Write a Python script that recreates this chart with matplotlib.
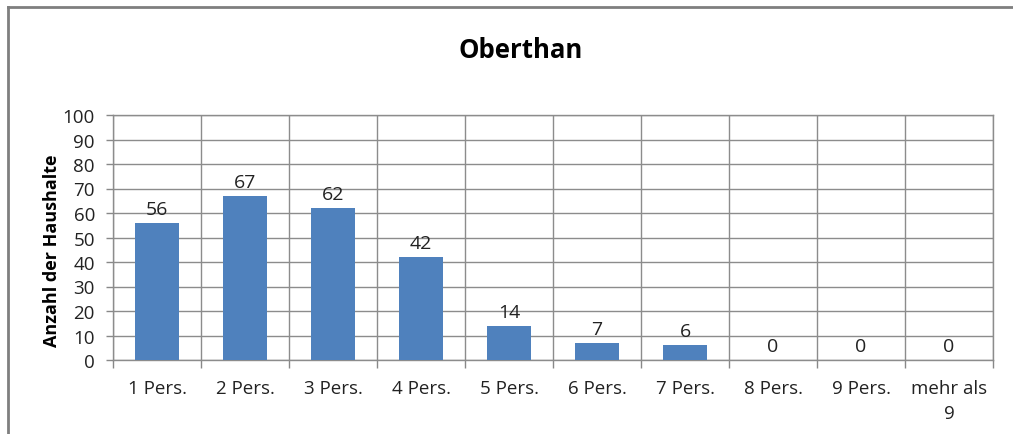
import matplotlib
matplotlib.use("Agg")
import matplotlib.pyplot as plt
from matplotlib.lines import Line2D
import numpy as np

# data
categories = ["1 Pers.", "2 Pers.", "3 Pers.", "4 Pers.", "5 Pers.",
              "6 Pers.", "7 Pers.", "8 Pers.", "9 Pers.", "mehr als\n9"]
households = [56, 67, 62, 42, 14, 7, 6, 0, 0, 0]
yticks = list(range(0, 101, 10))

plt.rcParams['font.family'] = ['Open Sans', 'DejaVu Sans']

fig = plt.figure(figsize=(10.13, 4.35), dpi=100)
ax = fig.add_axes([113 / 1013, 74 / 435, 880 / 1013, 245 / 435])

x = np.arange(len(categories))
ax.bar(x, households, width=0.5, color="#4F81BD", zorder=3)

for xi, v in zip(x, households):
    ax.annotate(str(v), (xi, v), xytext=(0, 6.5), textcoords="offset points",
                ha="center", va="baseline", fontsize=14, color="#222222")

ax.set_xlim(-0.5, len(categories) - 0.5)
ax.set_ylim(0, 100)
ax.set_yticks(yticks)
ax.set_xticks(x)
ax.set_xticklabels(categories, fontsize=13.5, color="#222222")
for lbl in ax.get_xticklabels():
    lbl.set_linespacing(1.45)
ax.set_xticks(np.arange(len(categories) + 1) - 0.5, minor=True)

ax.tick_params(axis="x", which="major", length=0, pad=14)
ax.tick_params(axis="x", which="minor", length=6, color="#888888", width=1)
ax.tick_params(axis="y", length=5, color="#888888", width=1, pad=8,
               labelsize=13.5, labelcolor="#222222")

ax.grid(True, axis="y", which="major", color="#8c8c8c", lw=1, zorder=0)
ax.grid(True, axis="x", which="minor", color="#8c8c8c", lw=1, zorder=0)
for s in ax.spines.values():
    s.set_color("#8c8c8c")
    s.set_linewidth(1)

ax.set_ylabel("Anzahl der Haushalte", fontsize=13, fontweight="bold")
ax.yaxis.set_label_coords(-(113 - 61) / 880, 0.45)

fig.text(521 / 1013, 1 - 50 / 435, "Oberthan", ha="center", va="center",
         fontsize=18.5, fontweight="bold")

# outer frame of the chart area (top and left edge visible)
fig.add_artist(Line2D([8 / 1013, 1.0], [1 - 8 / 435, 1 - 8 / 435],
                      transform=fig.transFigure, color="#7f7f7f", lw=2))
fig.add_artist(Line2D([8 / 1013, 8 / 1013], [0, 1 - 8 / 435],
                      transform=fig.transFigure, color="#7f7f7f", lw=2))

fig.savefig("out.png", dpi=100)
